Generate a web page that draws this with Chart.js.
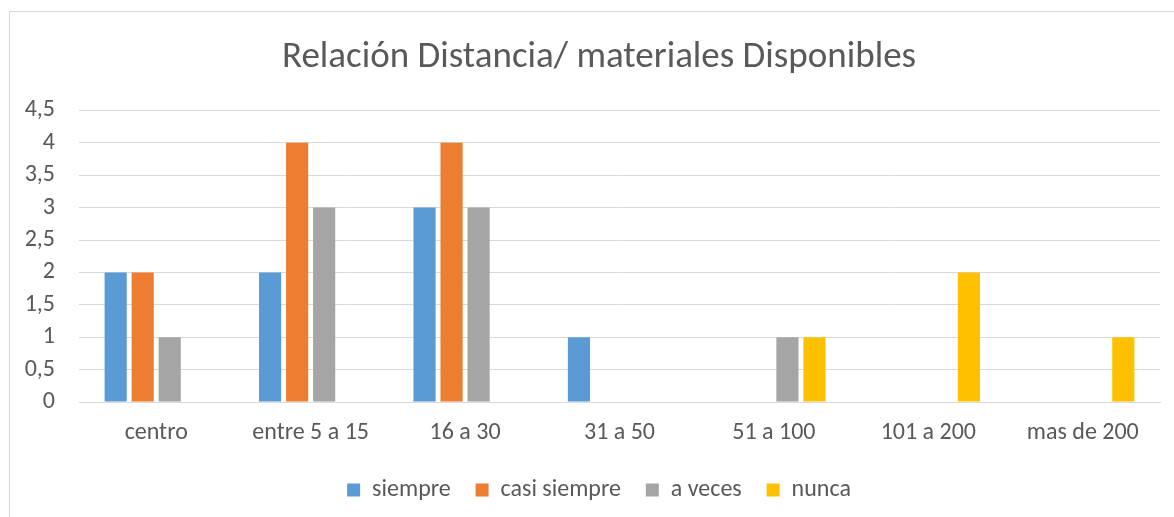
<!DOCTYPE html>
<html lang="es">
<head>
  <meta charset="utf-8">
  <title>Relación Distancia/ materiales Disponibles</title>
  <script src="https://cdn.jsdelivr.net/npm/chart.js@4.4.0/dist/chart.umd.min.js"></script>
  <style>
    html, body { margin: 0; padding: 0; background: #fff; }
    #wrap { position: relative; width: 1174px; height: 517px; overflow: hidden; }
    #frame { position: absolute; left: 9px; top: 11px; width: 1200px; height: 600px; border: 1px solid #d9d9d9; }
    canvas { position: absolute; left: 0; top: 0; }
  </style>
</head>
<body>
<div id="wrap">
  <div id="frame"></div>
  <canvas id="chart" width="1198" height="517"></canvas>
</div>
<script>
// datos
var categorias = ["centro", "entre 5 a 15", "16 a 30", "31 a 50", "51 a 100", "101 a 200", "mas de 200"];
var siempre     = [2, 2, 3, 1, 0, 0, 0];
var casiSiempre = [2, 4, 4, 0, 0, 0, 0];
var aVeces      = [1, 3, 3, 0, 1, 0, 0];
var nunca       = [0, 0, 0, 0, 1, 2, 1];
var titulo = "Relación Distancia/ materiales Disponibles";

var fuente = "Carlito, Calibri, Lato, sans-serif";
var gris = "#595959";

function serie(label, data, color) {
  return {
    label: label,
    data: data,
    backgroundColor: color,
    borderWidth: 0,
    categoryPercentage: 0.70,
    barPercentage: 0.82
  };
}

var ctx = document.getElementById("chart").getContext("2d");
new Chart(ctx, {
  type: "bar",
  data: {
    labels: categorias,
    datasets: [
      serie("siempre", siempre, "#5b9bd5"),
      serie("casi siempre", casiSiempre, "#ed7d31"),
      serie("a veces", aVeces, "#a5a5a5"),
      serie("nunca", nunca, "#ffc000")
    ]
  },
  options: {
    responsive: false,
    animation: false,
    layout: { padding: { left: 0, right: 0, top: 0, bottom: 5 } },
    plugins: {
      title: {
        display: true,
        text: titulo,
        color: gris,
        font: { family: fuente, size: 37, weight: "normal" },
        padding: { top: 36, bottom: 30 }
      },
      legend: {
        position: "bottom",
        labels: {
          color: gris,
          font: { family: fuente, size: 24 },
          boxWidth: 13,
          boxHeight: 13,
          padding: 14,
          // un poco mas de aire entre elementos sin agrandar la altura de la leyenda
          generateLabels: function(chart) {
            var items = Chart.defaults.plugins.legend.labels.generateLabels(chart);
            items.forEach(function(it, i) {
              if (i < items.length - 1) it.text = it.text + "  ";
            });
            return items;
          }
        }
      },
      tooltip: { enabled: false }
    },
    scales: {
      x: {
        grid: { display: false, drawTicks: false },
        border: { display: true, color: "#d9d9d9" },
        ticks: { color: gris, font: { family: fuente, size: 24, lineHeight: 1 }, padding: 19, maxRotation: 0 }
      },
      y: {
        min: 0,
        max: 4.5,
        grid: { color: "#d9d9d9", drawTicks: false },
        border: { display: false },
        afterFit: function(scale) { scale.width = 79; },
        ticks: {
          stepSize: 0.5,
          autoSkip: false,
          color: gris,
          font: { family: fuente, size: 24 },
          padding: 24,
          callback: function(v) { return String(v).replace(".", ","); }
        }
      },
      // eje vacio a la derecha, solo para dejar el margen del marco
      margen: {
        position: "right",
        min: 0,
        max: 1,
        grid: { display: false },
        border: { display: false },
        ticks: { display: false },
        afterFit: function(scale) { scale.width = 38; }
      }
    }
  }
});
</script>
</body>
</html>
